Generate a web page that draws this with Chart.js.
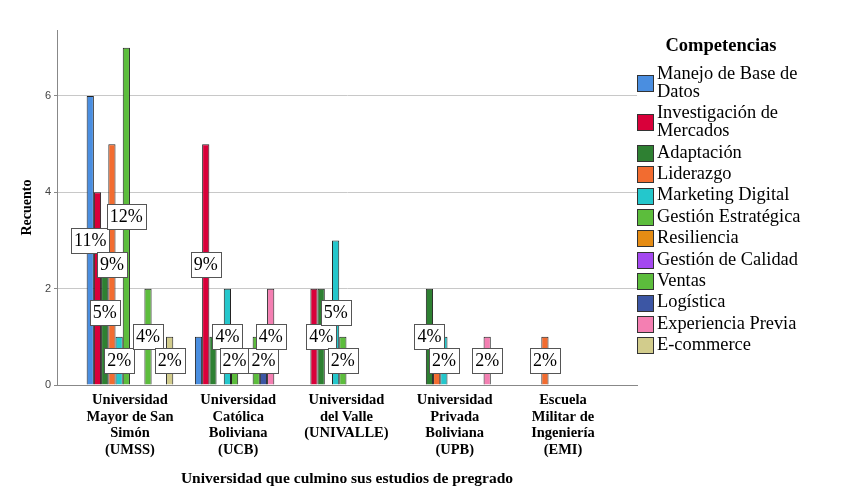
<!DOCTYPE html>
<html>
<head>
<meta charset="utf-8">
<script src="https://cdn.jsdelivr.net/npm/chart.js@4.4.1/dist/chart.umd.min.js"></script>
<style>
  body { margin: 0; background: #fff; }
  #wrap { width: 851px; height: 501px; }
</style>
</head>
<body>
<div id="wrap"><canvas id="myChart"></canvas></div>
<script>
var universidades = [
  ["Universidad", "Mayor de San", "Simón", "(UMSS)"],
  ["Universidad", "Católica", "Boliviana", "(UCB)"],
  ["Universidad", "del Valle", "(UNIVALLE)"],
  ["Universidad", "Privada", "Boliviana", "(UPB)"],
  ["Escuela", "Militar de", "Ingeniería", "(EMI)"],
];

var competencias = [
  "Manejo de Base de Datos",
  "Investigación de Mercados",
  "Adaptación",
  "Liderazgo",
  "Marketing Digital",
  "Gestión Estratégica",
  "Resiliencia",
  "Gestión de Calidad",
  "Ventas",
  "Logística",
  "Experiencia Previa",
  "E-commerce",
];

// recuento por universidad (UMSS, UCB, UNIVALLE, UPB, EMI)
var manejoBD = [6, 1, 0, 0, 0];
var investigacion = [4, 5, 2, 0, 0];
var adaptacion = [3, 1, 2, 2, 0];
var liderazgo = [5, 0, 0, 1, 1];
var marketing = [1, 2, 3, 1, 0];
var gestionEstrategica = [7, 1, 1, 0, 0];
var resiliencia = [0, 0, 0, 0, 0];
var gestionCalidad = [0, 0, 0, 0, 0];
var ventas = [2, 1, 0, 0, 0];
var logistica = [0, 1, 0, 0, 0];
var experiencia = [0, 2, 0, 1, 0];
var ecommerce = [1, 0, 0, 0, 0];

var series = [
  manejoBD, investigacion, adaptacion, liderazgo, marketing, gestionEstrategica,
  resiliencia, gestionCalidad, ventas, logistica, experiencia, ecommerce,
];

var barColors = [
  "#4a8ee0", "#d9003a", "#2e8032", "#f26c30", "#24c7cc", "#5cbd3c",
  "#e58c14", "#a448f0", "#5cbd3c", "#3c56a4", "#f47fb2", "#d2cc8c",
];

// etiquetas de porcentaje visibles: [universidad, competencia]
var etiquetasVisibles = [
  [0, 0], [0, 2], [0, 3], [0, 4], [0, 5], [0, 8], [0, 11],
  [1, 1], [1, 4], [1, 5], [1, 9], [1, 10],
  [2, 2], [2, 4], [2, 5],
  [3, 2], [3, 4], [3, 10],
  [4, 3],
];

var yTicks = [0, 2, 4, 6];

var total = 0;
series.forEach(function (s) { s.forEach(function (v) { total += v; }); });

var SERIF = "'Liberation Serif', 'Times New Roman', serif";

var percentLabels = {
  id: "percentLabels",
  afterDatasetsDraw: function (chart) {
    var ctx = chart.ctx;
    ctx.save();
    ctx.font = "18px " + SERIF;
    ctx.textAlign = "center";
    ctx.textBaseline = "middle";
    etiquetasVisibles.forEach(function (p) {
      var el = chart.getDatasetMeta(p[1]).data[p[0]];
      var v = series[p[1]][p[0]];
      if (!el || !v) return;
      var txt = Math.round((v / total) * 100) + "%";
      var x = el.x;
      var y = (el.y + el.base) / 2;
      var w = Math.round(ctx.measureText(txt).width + 6);
      var h = 25;
      var bx = Math.round(x - w / 2) + 0.5;
      var by = Math.round(y - h / 2) + 0.5;
      ctx.fillStyle = "#fff";
      ctx.fillRect(bx, by, w, h);
      ctx.strokeStyle = "#555";
      ctx.lineWidth = 1;
      ctx.strokeRect(bx, by, w, h);
      ctx.fillStyle = "#000";
      ctx.fillText(txt, x, y + 1);
    });
    ctx.restore();
  },
};

function wrapText(ctx, text, maxW) {
  var words = text.split(" ");
  var lines = [];
  var cur = "";
  words.forEach(function (w) {
    var t = cur ? cur + " " + w : w;
    if (ctx.measureText(t).width > maxW && cur) {
      lines.push(cur);
      cur = w;
    } else {
      cur = t;
    }
  });
  lines.push(cur);
  return lines;
}

var sideLegend = {
  id: "sideLegend",
  afterDraw: function (chart) {
    var ctx = chart.ctx;
    ctx.save();
    ctx.fillStyle = "#000";
    ctx.textBaseline = "middle";
    ctx.textAlign = "center";
    ctx.font = "bold 18.5px " + SERIF;
    ctx.fillText("Competencias", 721, 46);
    ctx.textAlign = "left";
    ctx.font = "18.4px " + SERIF;
    var y = 74;
    competencias.forEach(function (name, i) {
      var lines = wrapText(ctx, name, 170);
      var mid = y + (lines.length - 1) * 9;
      ctx.fillStyle = barColors[i];
      ctx.fillRect(637.5, Math.round(mid - 8) + 0.5, 16, 16);
      ctx.strokeStyle = "#333";
      ctx.lineWidth = 1;
      ctx.strokeRect(637.5, Math.round(mid - 8) + 0.5, 16, 16);
      ctx.fillStyle = "#000";
      lines.forEach(function (l, j) {
        ctx.fillText(l, 657, y + j * 18);
      });
      y += (lines.length - 1) * 18 + 21.4;
    });
    ctx.restore();
  },
};

new Chart(document.getElementById("myChart"), {
  type: "bar",
  data: {
    datasets: series.map(function (s, i) {
      return {
        label: competencias[i],
        backgroundColor: barColors[i],
        borderColor: "#222",
        borderWidth: 1,
        data: s.map(function (v, j) { return { x: j, y: v || null }; }),
      };
    }),
  },
  plugins: [percentLabels, sideLegend],
  options: {
    responsive: true,
    maintainAspectRatio: false,
    animation: false,
    categoryPercentage: 0.8,
    barPercentage: 1,
    layout: { padding: { left: 0, right: 214, top: 30, bottom: 0 } },
    plugins: {
      legend: { display: false },
      tooltip: { enabled: false },
    },
    scales: {
      x: {
        type: "linear",
        offset: false,
        min: -0.674,
        max: 4.684,
        grid: { display: false, drawTicks: false },
        border: { display: true, color: "#888" },
        afterBuildTicks: function (scale) {
          scale.ticks = universidades.map(function (u, i) { return { value: i }; });
        },
        afterFit: function (scale) { scale.height = 116; },
        ticks: {
          autoSkip: false,
          maxRotation: 0,
          padding: 7,
          color: "#000",
          font: { family: SERIF, size: 14.5, weight: "bold", lineHeight: 1.15 },
          callback: function (v) { return universidades[v]; },
        },
        title: {
          display: true,
          text: "Universidad que culmino sus estudios de pregrado",
          color: "#000",
          font: { family: SERIF, size: 15.5, weight: "bold" },
          padding: { top: 0, bottom: 12.5 },
        },
      },
      y: {
        min: 0,
        max: 7.37,
        ticks: {
          stepSize: 2,
          padding: 3,
          color: "#444",
          font: { family: "'Liberation Sans', Arial, sans-serif", size: 11 },
        },
        afterBuildTicks: function (scale) {
          scale.ticks = yTicks.map(function (t) { return { value: t }; });
        },
        afterFit: function (scale) { scale.width = 57; },
        grid: {
          color: function (c) { return c.tick && c.tick.value === 0 ? "#888" : "#c8c8c8"; },
          tickColor: "#888",
          tickLength: 3,
        },
        border: { color: "#888" },
        title: {
          display: true,
          text: "Recuento",
          color: "#000",
          font: { family: SERIF, size: 14, weight: "bold" },
          padding: { top: 18.6, bottom: 0 },
        },
      },
    },
  },
});
</script>
</body>
</html>
